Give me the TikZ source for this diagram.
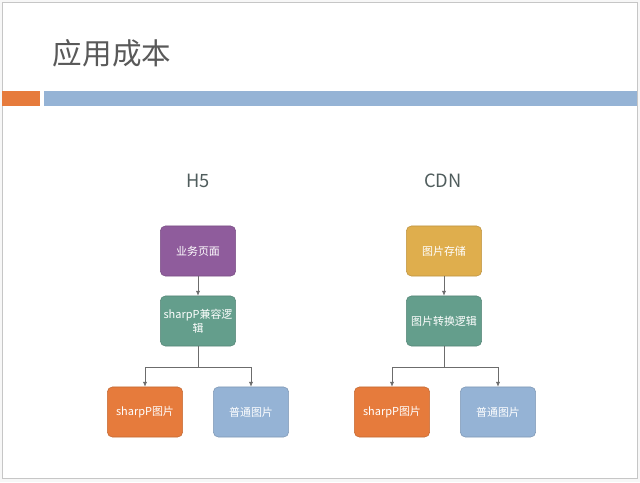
\documentclass[tikz,border=0pt]{standalone}
\usepackage{fontspec}
\setmainfont{Noto Sans CJK SC}
\usetikzlibrary{arrows.meta}
\definecolor{slidepurple}{HTML}{8F5C9C}
\definecolor{slidegreen}{HTML}{649E8C}
\definecolor{slidegold}{HTML}{DFAE4D}
\definecolor{slideorange}{HTML}{E67B3C}
\definecolor{slideblue}{HTML}{95B3D5}
\definecolor{slidetext}{HTML}{595959}
\tikzset{
  box/.style={rounded corners=3.5pt, minimum width=1.88cm, minimum height=1.25cm,
    text=white, font=\fontsize{7.8pt}{10pt}\selectfont, align=center, inner sep=1pt},
  head/.style={text=slidetext!90!teal, font=\fontsize{13pt}{15pt}\selectfont},
  link/.style={draw=gray!85!black, line width=0.5pt, -{Latex[length=3.5pt,width=3pt]}}
}
\begin{document}
\begin{tikzpicture}
    \def\x{0.025}
    \def\y{-0.025}
    % slide frame
    \fill[gray!6] (0*\x, 0*\y) rectangle (640*\x, 482*\y);
    \filldraw[fill=white, draw=gray!45, line width=0.6pt] (2*\x, 2*\y) rectangle (637*\x, 478*\y);
    \node[anchor=west, text=slidetext, font=\fontsize{21pt}{24pt}\selectfont] (T) at (48*\x, 53*\y) {应用成本};
    \fill[slideorange] (2*\x, 91*\y) rectangle (40*\x, 106*\y);
    \fill[slideblue] (44*\x, 91*\y) rectangle (637*\x, 106*\y);
    % H5
    \node[head] (H) at (198*\x, 181*\y) {H5};
    \node[box, fill=slidepurple, draw=slidepurple!85!black] (A0_0) at (198*\x, 251*\y) {业务页面};
    \node[box, fill=slidegreen, draw=slidegreen!85!black] (A1_0) at (198*\x, 321*\y) {sharpP兼容逻\\辑};
    \node[box, fill=slideorange, draw=slideorange!85!black] (A2_0) at (145*\x, 412*\y) {sharpP图片};
    \node[box, fill=slideblue, draw=slideblue!85!black] (A2_1) at (251*\x, 412*\y) {普通图片};
    \coordinate (J0) at (198*\x, 367*\y);
    \path (A0_0) edge [link] (A1_0);
    \draw[draw=gray!85!black, line width=0.5pt] (A1_0) -- (J0);
    \draw[link] (J0) -| (A2_0);
    \draw[link] (J0) -| (A2_1);
    % CDN
    \node[head] (C) at (443*\x, 181*\y) {CDN};
    \node[box, fill=slidegold, draw=slidegold!85!black] (B0_0) at (444*\x, 251*\y) {图片存储};
    \node[box, fill=slidegreen, draw=slidegreen!85!black] (B1_0) at (444*\x, 321*\y) {图片转换逻辑};
    \node[box, fill=slideorange, draw=slideorange!85!black] (B2_0) at (392*\x, 412*\y) {sharpP图片};
    \node[box, fill=slideblue, draw=slideblue!85!black] (B2_1) at (498*\x, 412*\y) {普通图片};
    \coordinate (J1) at (444*\x, 367*\y);
    \path (B0_0) edge [link] (B1_0);
    \draw[draw=gray!85!black, line width=0.5pt] (B1_0) -- (J1);
    \draw[link] (J1) -| (B2_0);
    \draw[link] (J1) -| (B2_1);
  \end{tikzpicture}
\end{document}
